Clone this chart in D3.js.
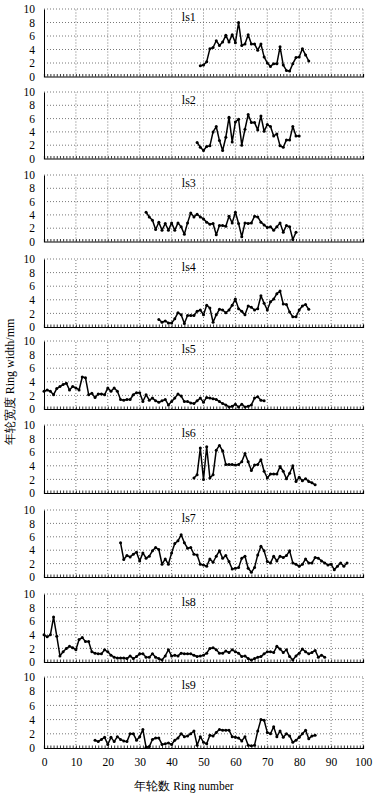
<!DOCTYPE html>
<html><head><meta charset="utf-8">
<script src="https://cdn.jsdelivr.net/npm/d3@7"></script>
<style>html,body{margin:0;padding:0;background:#fff;}svg{display:block;}</style>
</head><body>
<script>
// ---- data ----
const seriesNames = ["ls1","ls2","ls3","ls4","ls5","ls6","ls7","ls8","ls9"];
const seriesStart = [49,48,32,36,0,47,24,0,16];
const ls1 = [1.6,1.7,2.2,4.1,4.3,5.3,4.6,5.1,6.1,5.1,6.2,5.0,8.0,4.6,4.8,6.2,4.8,4.8,3.9,4.8,2.9,2.0,1.5,1.9,1.9,4.4,1.7,0.9,0.8,1.9,2.8,2.9,4.1,3.2,2.3];
const ls2 = [2.4,1.7,1.2,1.8,1.9,4.0,4.8,2.7,1.2,3.2,6.2,2.5,5.5,5.9,2.0,4.4,6.6,5.4,5.4,4.3,6.4,4.1,5.1,4.8,3.4,3.7,1.9,1.7,2.8,2.8,4.8,3.4,3.4];
const ls3 = [4.4,3.7,3.2,1.8,2.9,1.7,2.7,1.7,2.8,1.7,2.8,2.2,1.1,2.8,4.3,3.7,4.1,3.7,3.4,2.9,2.6,2.7,1.0,2.4,2.4,2.3,3.8,2.8,4.4,2.7,0.7,2.8,2.7,2.8,3.8,3.7,2.9,2.5,2.1,2.2,1.7,2.2,2.8,1.4,2.4,2.2,0.3,1.4];
const ls4 = [1.1,0.7,0.9,0.6,0.6,1.2,2.1,1.8,0.5,1.7,1.7,1.7,2.3,2.5,1.8,3.2,2.8,0.7,1.8,2.6,2.5,2.1,2.5,3.2,4.1,2.7,2.3,1.8,3.1,2.9,2.5,2.7,4.6,3.5,2.5,3.7,4.1,4.9,5.3,3.4,3.3,2.2,1.5,1.5,2.5,3.1,3.3,2.6];
const ls5 = [2.6,2.8,2.6,2.1,3.0,3.3,3.6,3.8,2.8,3.3,3.1,2.8,4.7,4.6,2.1,2.3,1.7,2.2,2.2,2.1,3.1,2.6,3.1,2.6,1.4,1.3,1.4,1.4,2.1,2.4,2.4,1.1,2.1,1.3,1.6,1.2,1.0,1.2,1.4,0.6,1.1,1.6,2.2,1.9,1.1,1.1,0.9,0.8,1.2,1.6,1.0,1.7,1.6,1.5,1.4,1.1,0.8,0.6,0.3,0.4,0.7,0.3,0.7,0.3,0.4,0.6,1.6,1.8,1.3,1.2];
const ls6 = [2.2,2.7,6.6,2.0,6.8,2.2,2.7,6.3,7.0,6.2,4.2,4.2,4.2,4.1,4.2,4.6,5.8,4.6,3.3,4.1,4.2,4.9,3.2,2.2,2.8,2.8,2.8,3.9,3.2,2.1,2.9,4.0,1.7,2.3,1.8,2.1,1.7,1.5,1.2];
const ls7 = [5.1,2.6,3.2,3.0,3.4,3.7,2.4,3.6,2.8,3.1,3.9,4.4,4.1,1.9,2.7,1.9,3.6,5.0,5.4,6.3,5.1,4.3,4.4,3.4,3.3,1.9,1.8,1.6,2.7,2.2,3.1,3.9,2.8,3.2,2.3,1.2,1.3,1.4,2.8,3.1,1.3,0.7,1.4,3.3,4.6,3.9,2.3,2.1,3.1,2.4,3.1,2.9,3.2,3.9,2.1,1.9,1.6,1.9,2.7,2.1,2.1,2.9,2.8,2.4,2.1,1.8,1.9,1.1,1.6,2.1,1.6,2.1];
const ls8 = [4.0,3.7,4.0,6.6,3.8,0.9,1.5,2.0,2.3,2.1,1.8,3.3,3.6,3.0,3.0,1.5,1.3,1.2,1.2,1.8,1.5,1.0,0.7,0.6,0.6,0.6,0.5,0.9,0.5,0.8,1.2,1.2,0.7,0.7,1.2,0.7,0.5,0.3,0.9,1.8,0.9,1.0,0.9,1.3,1.2,1.2,1.2,1.0,0.8,0.9,1.0,1.3,2.0,2.1,1.8,1.3,1.3,1.6,1.4,1.8,1.5,1.3,0.8,0.9,0.5,0.3,0.5,0.7,0.8,1.2,1.5,1.5,1.4,2.3,1.9,1.4,1.8,0.8,0.3,0.9,1.3,1.9,1.5,1.2,1.4,1.7,0.7,1.0,0.7];
const ls9 = [1.1,0.9,1.2,1.5,0.5,1.5,0.9,1.6,1.2,1.0,0.9,2.0,2.0,1.1,1.6,2.6,0.1,0.2,1.2,1.4,1.4,0.5,0.6,0.7,0.5,1.1,1.4,2.0,1.6,1.7,2.0,2.4,0.4,1.6,0.8,0.6,1.8,1.7,2.2,2.6,2.5,2.5,2.5,1.6,1.5,1.4,1.0,1.6,0.4,0.3,0.4,2.4,4.0,3.9,2.2,2.0,3.0,1.6,2.4,1.5,2.0,1.7,0.8,1.1,1.5,2.0,2.5,1.3,1.7,1.8];
const seriesValues = [ls1,ls2,ls3,ls4,ls5,ls6,ls7,ls8,ls9];
const xTicks = [0,10,20,30,40,50,60,70,80,90,100];
const yTicks = [0,2,4,6,8,10];
const yTitle = "年轮宽度  Ring width/mm";
const xTitle = "年轮数  Ring number";

// ---- layout ----
const W = 377, H = 800;
const panelTop = [9,92,175,259,341,425,510,594,677];
const panelBottom = [76.5,158.5,241.5,327,409,493,577,662,748];
const svg = d3.select("body").append("svg").attr("width",W).attr("height",H);
const x = d3.scaleLinear().domain([0,100]).range([44,363]);
const serif = "'Liberation Serif','DejaVu Serif',serif";

seriesNames.forEach((name,i)=>{
  const y = d3.scaleLinear().domain([0,10]).range([panelBottom[i],panelTop[i]]);
  const g = svg.append("g");
  // grid
  g.selectAll("line.gx").data(xTicks.slice(1)).join("line")
    .attr("x1",d=>x(d)).attr("x2",d=>x(d)).attr("y1",y(0)).attr("y2",y(10))
    .attr("stroke","#555").attr("stroke-width",0.8).attr("stroke-dasharray","1,2");
  g.selectAll("line.gy").data(yTicks.slice(1)).join("line")
    .attr("x1",x(0)).attr("x2",x(100)).attr("y1",d=>y(d)).attr("y2",d=>y(d))
    .attr("stroke","#555").attr("stroke-width",0.8).attr("stroke-dasharray","1,2");
  // left axis
  const ya = g.append("g").attr("transform",`translate(${x(0)},0)`)
    .call(d3.axisLeft(y).tickValues(yTicks).tickSize(0).tickPadding(9));
  ya.select(".domain").attr("stroke","#000").attr("stroke-width",1);
  ya.selectAll("text").attr("font-family",serif).attr("font-size",11.5).attr("fill","#000");
  // bottom axis with minor ticks
  const xa = g.append("g").attr("transform",`translate(0,${y(0)})`)
    .call(d3.axisTop(x).ticks(100).tickSize(2.5).tickFormat(""));
  xa.select(".domain").attr("stroke","#000").attr("stroke-width",1.2);
  xa.selectAll(".tick line").attr("stroke","#000").attr("stroke-width",0.8);
  // label
  g.append("text").attr("x",x(43.2)).attr("y",panelTop[i]+12).text(name)
    .attr("font-family",serif).attr("font-size",12).attr("fill","#000");
  // series
  const pts = seriesValues[i].map((v,k)=>({r:seriesStart[i]+k, v}));
  g.append("path").datum(pts)
    .attr("d",d3.line().x(d=>x(d.r)).y(d=>y(d.v)))
    .attr("fill","none").attr("stroke","#000").attr("stroke-width",1.5).attr("stroke-linejoin","round");
  g.selectAll("circle").data(pts).join("circle")
    .attr("cx",d=>x(d.r)).attr("cy",d=>y(d.v)).attr("r",1.5).attr("fill","#000");
  if (i === seriesNames.length-1) {
    const xb = g.append("g").attr("transform",`translate(0,${y(0)})`)
      .call(d3.axisBottom(x).tickValues(xTicks).tickSize(0).tickPadding(10));
    xb.select(".domain").remove();
    xb.selectAll("text").attr("font-family",serif).attr("font-size",11.5).attr("fill","#000");
  }
});

svg.append("text").attr("x",184).attr("y",790).attr("text-anchor","middle")
  .attr("font-family",serif).attr("font-size",11.5).text(xTitle);
svg.append("text").attr("transform","translate(14,382) rotate(-90)").attr("text-anchor","middle")
  .attr("font-family",serif).attr("font-size",12).text(yTitle);
</script>
</body></html>
